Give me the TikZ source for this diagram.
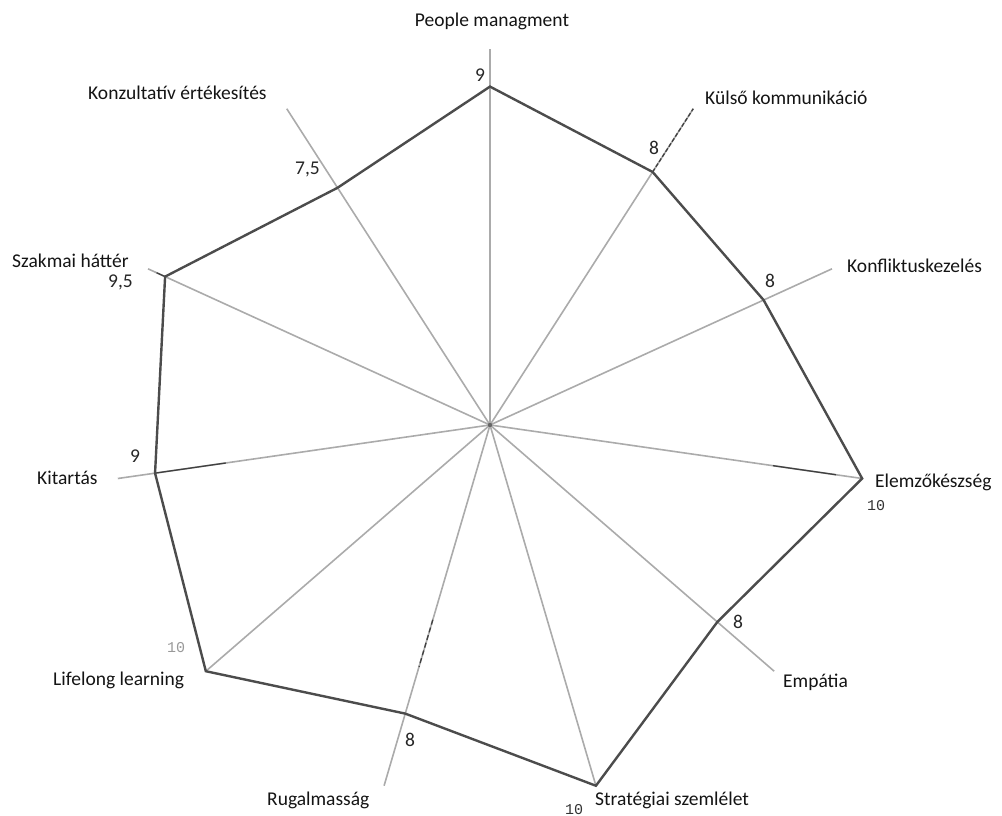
\documentclass[tikz,border=0pt]{standalone}
\usepackage{fontspec}
\setmainfont{Carlito}
\newfontfamily\monofont{Liberation Mono}
\usetikzlibrary{calc}
\begin{document}
\begin{tikzpicture}[x=1pt,y=1pt,
  spoke/.style={draw=black!33, line width=1.6pt},
  darkpart/.style={draw=black!75, line width=1.3pt},
  web/.style={draw=black!70, line width=2.4pt, line join=miter},
  lbl/.style={text=black!92, font=\fontsize{19.5}{22}\selectfont, inner sep=0pt},
  val/.style={text=black!85, font=\fontsize{19.5}{22}\selectfont, inner sep=0pt},
  mono/.style={text=black!80, font=\monofont\fontsize{15}{16}\selectfont, inner sep=0pt}]
\useasboundingbox (0,0) rectangle (1002,815);
\coordinate (C) at (490,390);
\foreach \n/\v [count=\i from 0] in {pm/9,kk/8,kf/8,el/10,em/8,st/10,ru/8,ll/10,ki/9,sz/9.5,ko/7.5} {
  \coordinate (e\n) at ($(C)+({90-\i*360/11}:376)$);
  \coordinate (v\n) at ($(C)+({90-\i*360/11}:{\v*37.6})$);
}
% spokes
\foreach \n in {pm,kk,kf,el,em,st,ru,ll,ki,sz,ko} {
  \draw[spoke] (C) -- (e\n);
}
% darker marks along some spokes
\draw[darkpart, dashed, dash pattern=on 4pt off 2pt] (vkk) -- (ekk);
\draw[darkpart] (vki) -- ($(C)!0.71!(eki)$);
\draw[darkpart] ($(C)!0.76!(eel)$) -- ($(C)!0.93!(eel)$);
\draw[darkpart, dashed, dash pattern=on 5pt off 3pt] ($(C)!0.54!(eru)$) -- ($(C)!0.67!(eru)$);
\draw[darkpart] ($(C)!0.975!(esz)$) -- (vsz);
\fill[black!60] (C) circle (2.2pt);
% polygon
\draw[web] (vpm) -- (vkk) -- (vkf) -- (vel) -- (vem) -- (vst) -- (vru) -- (vll) -- (vki) -- (vsz) -- (vko) -- cycle;
% axis labels
\node[lbl, anchor=base] (Lpm) at (492,788) {People managment};
\node[lbl, anchor=base west] (Lko) at (88,715) {Konzultatív értékesítés};
\node[lbl, anchor=base west] (Lsz) at (12,547) {Szakmai háttér};
\node[lbl, anchor=base west] (Lkk) at (705,710) {Külső kommunikáció};
\node[lbl, anchor=base west] (Lkf) at (847,542) {Konfliktuskezelés};
\node[lbl, anchor=base west] (Lel) at (875,327) {Elemzőkészség};
\node[lbl, anchor=base west] (Lem) at (783,128) {Empátia};
\node[lbl, anchor=base west] (Lst) at (595,10) {Stratégiai szemlélet};
\node[lbl, anchor=base west] (Lru) at (267,10) {Rugalmasság};
\node[lbl, anchor=base west] (Lll) at (53,130) {Lifelong learning};
\node[lbl, anchor=base west] (Lki) at (37,330) {Kitartás};
% value labels
\node[val, anchor=base] (Vpm) at (480,733) {9};
\node[val, anchor=base west] (Vko) at (295,640) {7,5};
\node[val, anchor=base west] (Vsz) at (108,527) {9,5};
\node[val, anchor=base] (Vkk) at (654,660) {8};
\node[val, anchor=base] (Vkf) at (770,527) {8};
\node[mono, anchor=base west] (Vel) at (867,304) {10};
\node[val, anchor=base] (Vem) at (738,187) {8};
\node[mono, anchor=base] (Vst) at (574,1) {10};
\node[val, anchor=base] (Vru) at (410,69) {8};
\node[mono, anchor=base west, text=black!40] (Vll) at (167,163) {10};
\node[val, anchor=base] (Vki) at (135,352) {9};
\end{tikzpicture}
\end{document}
